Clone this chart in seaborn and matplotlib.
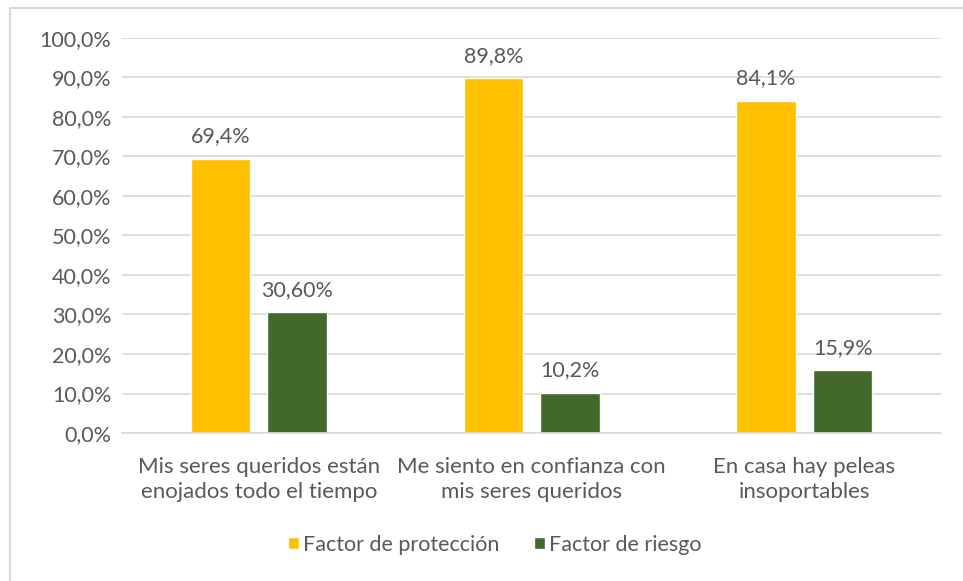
import seaborn as sns
import matplotlib.pyplot as plt
import pandas as pd
from matplotlib.ticker import FuncFormatter, MultipleLocator
from matplotlib.lines import Line2D

categorias = ["Mis seres queridos están\nenojados todo el tiempo",
              "Me siento en confianza con\nmis seres queridos",
              "En casa hay peleas\ninsoportables"]
series = ["Factor de protección", "Factor de riesgo"]
proteccion = [69.4, 89.8, 84.1]
riesgo = [30.6, 10.2, 15.9]
etiquetas_proteccion = ["69,4%", "89,8%", "84,1%"]
etiquetas_riesgo = ["30,60%", "10,2%", "15,9%"]
colores = ["#FFC000", "#43682B"]

df = pd.DataFrame({
    "categoria": categorias * 2,
    "factor": [series[0]] * 3 + [series[1]] * 3,
    "valor": proteccion + riesgo,
})

sns.set_style("white")
plt.rcParams["font.family"] = ["Lato", "DejaVu Sans"]
gris = "#595959"
gris_linea = "#D9D9D9"
tam = 15.5

fig = plt.figure(figsize=(9.63, 5.81), dpi=100)
ax = fig.add_axes([0.127, 0.2547, 0.850, 0.68])
sns.barplot(data=df, x="categoria", y="valor", hue="factor", palette=colores,
            width=0.56, gap=0.22, saturation=1, ax=ax)

# etiquetas de datos
for cont, labs in zip(ax.containers, [etiquetas_proteccion, etiquetas_riesgo]):
    ax.bar_label(cont, labels=labs, padding=9, fontsize=tam, color=gris)

ax.set_ylim(0, 100)
ax.yaxis.set_major_locator(MultipleLocator(10))
ax.yaxis.set_major_formatter(FuncFormatter(lambda v, p: f"{v:.1f}%".replace(".", ",")))
ax.grid(axis="y", color=gris_linea, lw=1.2)
ax.set_axisbelow(True)
for s in ["top", "right", "left"]:
    ax.spines[s].set_visible(False)
ax.spines["bottom"].set_color(gris_linea)
ax.spines["bottom"].set_linewidth(1.2)
ax.tick_params(axis="y", length=0, pad=8, labelsize=tam, labelcolor=gris)
ax.tick_params(axis="x", length=0, pad=17, labelsize=tam + 0.5, labelcolor=gris)
for lbl in ax.get_xticklabels():
    lbl.set_linespacing(1.35)
ax.set_xlabel("")
ax.set_ylabel("")

sns.move_legend(ax, "center", bbox_to_anchor=(0.514, 0.062), bbox_transform=fig.transFigure,
                ncol=2, frameon=False, title=None, fontsize=tam, handlelength=0.5,
                handleheight=0.5, handletextpad=0.2, columnspacing=1.6, labelcolor=gris)

# borde del grafico
fig.add_artist(Line2D([0.0104, 0.0104], [0, 0.986], transform=fig.transFigure, color=gris_linea, lw=1.5))
fig.add_artist(Line2D([0.0104, 1], [0.986, 0.986], transform=fig.transFigure, color=gris_linea, lw=1.5))

fig.savefig("out.png", dpi=100)
